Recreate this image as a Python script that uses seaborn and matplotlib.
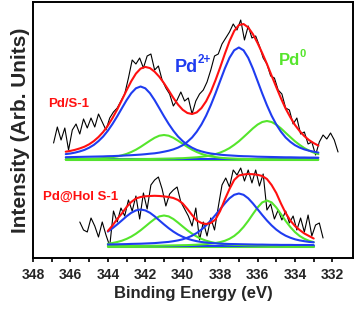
import numpy as np
import matplotlib
matplotlib.use("Agg")
import matplotlib.pyplot as plt
import seaborn as sns

# energy grids (eV)
e_raw_top = np.round(346.9 - 0.2 * np.arange(77), 2)
e_raw_bot = np.round(345.5 - 0.2 * np.arange(66), 2)
e_fit_top = np.round(346.25 - 0.25 * np.arange(55), 2)
e_fit_bot = np.round(344.0 - 0.25 * np.arange(45), 2)

# measured spectra (arb. units)
raw_top = [115, 131, 118, 130, 108, 128, 134, 124, 139, 130,
           140, 131, 144, 136, 128, 140, 146, 150, 157, 164,
           180, 198, 194, 200, 190, 202, 204, 188, 192, 178,
           170, 164, 152, 158, 166, 157, 160, 144, 157, 164,
           168, 176, 188, 202, 204, 214, 220, 226, 234, 228,
           238, 218, 232, 220, 222, 212, 200, 194, 182, 180,
           168, 164, 150, 148, 134, 140, 124, 126, 114, 116,
           103, 116, 123, 119, 125, 118, 106]
raw_bot = [36, 28, 26, 40, 32, 21, 36, 23, 12, 47,
           36, 50, 42, 58, 47, 62, 39, 65, 49, 73,
           78, 81, 69, 52, 64, 68, 71, 56, 49, 42,
           32, 50, 18, 36, 22, 40, 28, 51, 73, 80,
           71, 88, 83, 90, 77, 88, 75, 88, 72, 84,
           48, 54, 39, 48, 38, 47, 35, 42, 28, 40,
           26, 43, 22, 33, 35, 20]

# fitted components above background, Pd/S-1
pd2_a_top = [4.4, 5.0, 5.9, 7.1, 8.6, 10.8, 13.6, 17.4, 22.0, 27.8, 34.6, 42.2, 50.3, 58.3,
             65.3, 70.2, 72.0, 70.2, 65.3, 58.3, 50.3, 42.2, 34.6, 27.8, 22.0, 17.4, 13.6,
             10.8, 8.6, 7.1, 5.9, 5.0, 4.4, 3.8, 3.4, 3.1, 2.8, 2.5, 2.3, 2.2, 2.0, 1.8,
             1.7, 1.6, 1.5, 1.4, 1.3, 1.2, 1.2, 1.1, 1.0, 1.0, 0.9, 0.9, 0.8]
pd2_b_top = [1.3, 1.4, 1.5, 1.6, 1.7, 1.8, 1.9, 2.0, 2.1, 2.3, 2.4, 2.6, 2.8, 3.1, 3.3,
             3.6, 3.9, 4.3, 4.8, 5.2, 5.9, 6.8, 7.8, 9.1, 10.9, 13.3, 16.7, 21.0, 26.8,
             34.0, 42.8, 53.3, 65.0, 77.5, 89.9, 100.7, 108.2, 111.0, 108.2, 100.7, 89.9,
             77.5, 65.0, 53.3, 42.8, 34.0, 26.8, 21.0, 16.7, 13.3, 10.9, 9.1, 7.8, 6.8, 5.9]
pd0_a_top = [0.7, 0.8, 0.9, 1.0, 1.1, 1.2, 1.4, 1.6, 1.9, 2.3, 2.9, 3.6, 4.7, 6.1, 8.0,
             10.3, 13.1, 16.2, 19.3, 22.2, 24.3, 25.0, 24.3, 22.2, 19.3, 16.2, 13.1, 10.3,
             8.0, 6.1, 4.7, 3.6, 2.9, 2.3, 1.9, 1.6, 1.4, 1.2, 1.1, 1.0, 0.9, 0.8, 0.7,
             0.7, 0.6, 0.6, 0.5, 0.5, 0.5, 0.4, 0.4, 0.4, 0.3, 0.3, 0.3]
pd0_b_top = [0.4, 0.4, 0.4, 0.4, 0.4, 0.4, 0.5, 0.5, 0.5, 0.5, 0.6, 0.6, 0.7, 0.7, 0.7,
             0.8, 0.9, 0.9, 1.0, 1.1, 1.2, 1.3, 1.4, 1.5, 1.7, 1.8, 2.1, 2.4, 2.7, 3.2,
             3.8, 4.7, 5.9, 7.4, 9.4, 11.9, 15.1, 18.7, 22.9, 27.2, 31.6, 35.4, 38.0, 39.0,
             38.0, 35.4, 31.6, 27.2, 22.9, 18.7, 15.1, 11.9, 9.4, 7.4, 5.9]

# fitted components above background, Pd@Hol S-1
pd2_a_bot = [13.9, 17.3, 21.1, 25.1, 29.2, 32.7, 35.1, 36.0, 35.1, 32.7, 29.2, 25.1, 21.1,
             17.3, 13.9, 11.0, 8.7, 6.8, 5.4, 4.3, 3.5, 3.0, 2.5, 2.2, 1.9, 1.7, 1.5, 1.4,
             1.3, 1.2, 1.1, 1.0, 0.9, 0.9, 0.8, 0.7, 0.7, 0.6, 0.6, 0.6, 0.5, 0.5, 0.5,
             0.5, 0.4]
pd2_b_bot = [1.1, 1.1, 1.2, 1.3, 1.4, 1.6, 1.7, 1.8, 2.0, 2.2, 2.4, 2.8, 3.2, 3.6, 4.3,
             5.1, 6.2, 7.8, 9.8, 12.5, 15.9, 20.1, 25.0, 30.5, 36.3, 42.1, 47.2, 50.7, 52.0,
             50.7, 47.2, 42.1, 36.3, 30.5, 25.0, 20.1, 15.9, 12.5, 9.8, 7.8, 6.2, 5.1, 4.3,
             3.6, 3.2]
pd0_a_bot = [2.8, 3.5, 4.5, 5.8, 7.6, 9.9, 12.8, 16.2, 20.0, 23.9, 27.5, 30.1, 31.0, 30.1,
             27.5, 23.9, 20.0, 16.2, 12.8, 9.9, 7.6, 5.8, 4.5, 3.5, 2.8, 2.3, 2.0, 1.7,
             1.5, 1.3, 1.2, 1.1, 1.0, 0.9, 0.8, 0.7, 0.7, 0.7, 0.6, 0.6, 0.5, 0.5, 0.5,
             0.4, 0.4]
pd0_b_bot = [0.4, 0.4, 0.4, 0.5, 0.5, 0.5, 0.6, 0.6, 0.6, 0.7, 0.7, 0.8, 0.9, 1.0, 1.1,
             1.2, 1.3, 1.4, 1.6, 1.8, 2.1, 2.4, 2.9, 3.5, 4.4, 5.7, 7.7, 10.5, 14.4, 19.5,
             25.6, 32.4, 39.0, 44.1, 46.0, 44.1, 39.0, 32.4, 25.6, 19.5, 14.4, 10.5, 7.7,
             5.7, 4.4]
envelope_bot = [27, 32.5, 39, 44.5, 51, 56, 59.5, 61, 61.7, 62, 62.2, 62, 61.6, 61, 60,
                58, 54.5, 49, 43, 37.5, 35, 34, 35, 38.5, 47, 58.5, 69, 78, 82.5, 83.5,
                84, 83.8, 83.2, 82, 79, 73, 65, 54.5, 45, 37.5, 32, 28, 24.5, 22, 19.5]

# background levels
bg_top_blue, bg_top_green = 99.5, 98.0
bg_bot_blue, bg_bot_green = 12.5, 11.5

RED = "#ff1010"
BLUE = "#1f3cf0"
GREEN = "#55e52c"

sns.set_style("white")
plt.rcParams["font.family"] = ["Liberation Sans", "DejaVu Sans"]
plt.rcParams["font.weight"] = "bold"
plt.rcParams["axes.labelweight"] = "bold"

fig, ax = plt.subplots(figsize=(3.56, 3.12), dpi=100)
fig.subplots_adjust(left=33 / 356, right=353 / 356, bottom=1 - 258 / 312, top=1 - 2 / 312)


def line(x, y, color, lw):
    sns.lineplot(x=np.asarray(x), y=np.asarray(y, dtype=float), color=color,
                 linewidth=lw, sort=False, ax=ax)


# raw spectra
line(e_raw_top, raw_top, "black", 0.8)
line(e_raw_bot, raw_bot, "black", 0.8)

# Pd/S-1 fit
a = np.asarray
line(e_fit_top, np.full(55, bg_top_green), GREEN, 1.5)
line(e_fit_top, np.full(55, bg_top_blue), BLUE, 1.5)
line(e_fit_top, bg_top_green + a(pd0_a_top), GREEN, 1.5)
line(e_fit_top, bg_top_green + a(pd0_b_top), GREEN, 1.5)
line(e_fit_top, bg_top_blue + a(pd2_a_top), BLUE, 1.5)
line(e_fit_top, bg_top_blue + a(pd2_b_top), BLUE, 1.5)
fit_top = bg_top_blue + a(pd2_a_top) + a(pd2_b_top) + a(pd0_a_top) + a(pd0_b_top)
line(e_fit_top, fit_top, RED, 1.5)

# Pd@Hol S-1 fit
line(e_fit_bot, np.full(45, bg_bot_green), GREEN, 1.5)
line(e_fit_bot, np.full(45, bg_bot_blue), BLUE, 1.5)
line(e_fit_bot, bg_bot_green + a(pd0_a_bot), GREEN, 1.5)
line(e_fit_bot, bg_bot_green + a(pd0_b_bot), GREEN, 1.5)
line(e_fit_bot, bg_bot_blue + a(pd2_a_bot), BLUE, 1.5)
line(e_fit_bot, bg_bot_blue + a(pd2_b_bot), BLUE, 1.5)
line(e_fit_bot, envelope_bot, RED, 1.5)

# annotations
ax.text(347.2, 151, "Pd/S-1", color=RED, fontsize=9.5, fontweight="bold",
        ha="left", va="baseline")
ax.text(347.45, 58, "Pd@Hol S-1", color=RED, fontsize=9.5, fontweight="bold",
        ha="left", va="baseline")
ax.text(340.45, 186, "Pd", color=BLUE, fontsize=13, fontweight="bold",
        ha="left", va="baseline")
ax.text(339.2, 195, "2+", color=BLUE, fontsize=8.5, fontweight="bold",
        ha="left", va="baseline")
ax.text(334.85, 193, "Pd", color=GREEN, fontsize=12, fontweight="bold",
        ha="left", va="baseline")
ax.text(333.76, 201, "0", color=GREEN, fontsize=8, fontweight="bold",
        ha="left", va="baseline")

ax.set_xlim(348.0, 330.9)
ax.set_ylim(0, 256)
ax.set_xticks(np.arange(332, 349, 2))
ax.set_xticks(np.arange(332, 349, 1), minor=True)
ax.set_yticks([])
ax.tick_params(axis="x", which="both", bottom=True, direction="out",
               length=3, width=1.2, color="black", labelsize=10, pad=4)
for lbl in ax.get_xticklabels():
    lbl.set_fontweight("bold")

for sp in ax.spines.values():
    sp.set_color("black")
    sp.set_linewidth(1.4)

ax.set_xlabel("Binding Energy (eV)", fontsize=12, labelpad=3)
ax.set_ylabel("Intensity (Arb. Units)", fontsize=15, labelpad=2)

plt.savefig("out.png", dpi=100)
